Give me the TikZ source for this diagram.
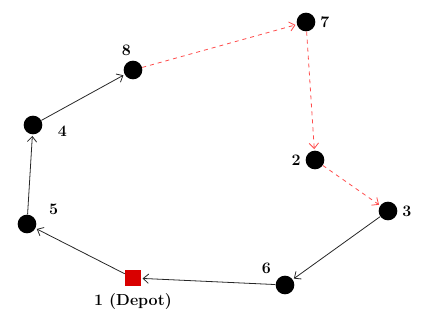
\documentclass[tikz,border=0pt]{standalone}
\usetikzlibrary{arrows.meta}
\begin{document}
\begin{tikzpicture}[
        x=0.75pt, y=-0.75pt,
        city/.style={
            circle,
            fill=black,
            minimum size=14pt,
            inner sep=0pt,
            label distance=2pt
        },
        depot/.style={
            rectangle,
            fill=red!85!black,
            minimum size=12pt,
            inner sep=0pt
        },
        every label/.style={font=\fontsize{12}{14}\selectfont\bfseries},
        route/.style={semithick, black!85, -{Straight Barb[length=4pt,width=7pt]}, shorten >=1pt},
        newroute/.style={semithick, red!70, dashed, -{Straight Barb[length=4pt,width=7pt]}, shorten >=1pt}
    ]
    \useasboundingbox (0,0) rectangle (426,320);

    % Clientes
    \node[depot, label={[label distance=2pt]below:1 (Depot)}] (n1) at (133,278) {};
    \node[city, label={[xshift=-5pt]above:8}]          (n8) at (133,70) {};
    \node[city, label=right:7]                          (n7) at (306,22) {};
    \node[city, label={[xshift=8pt,yshift=-5pt]right:4}] (n4) at (33,125) {};
    \node[city, label=left:2]                           (n2) at (315,160) {};
    \node[city, label={[xshift=-2pt]above left:6}]     (n6) at (285,285) {};
    \node[city, label=right:3]                          (n3) at (388,211) {};
    \node[city, label={[xshift=8pt,yshift=-2pt]above right:5}] (n5) at (27,224) {};

    % Ruta
    \draw[route] (n1) -- (n5);
    \draw[route] (n5) -- (n4);
    \draw[route] (n4) -- (n8);
    \draw[newroute] (n8) -- (n7);
    \draw[newroute] (n7) -- (n2);
    \draw[newroute] (n2) -- (n3);
    \draw[route] (n3) -- (n6);
    \draw[route] (n6) -- (n1);

\end{tikzpicture}
\end{document}
